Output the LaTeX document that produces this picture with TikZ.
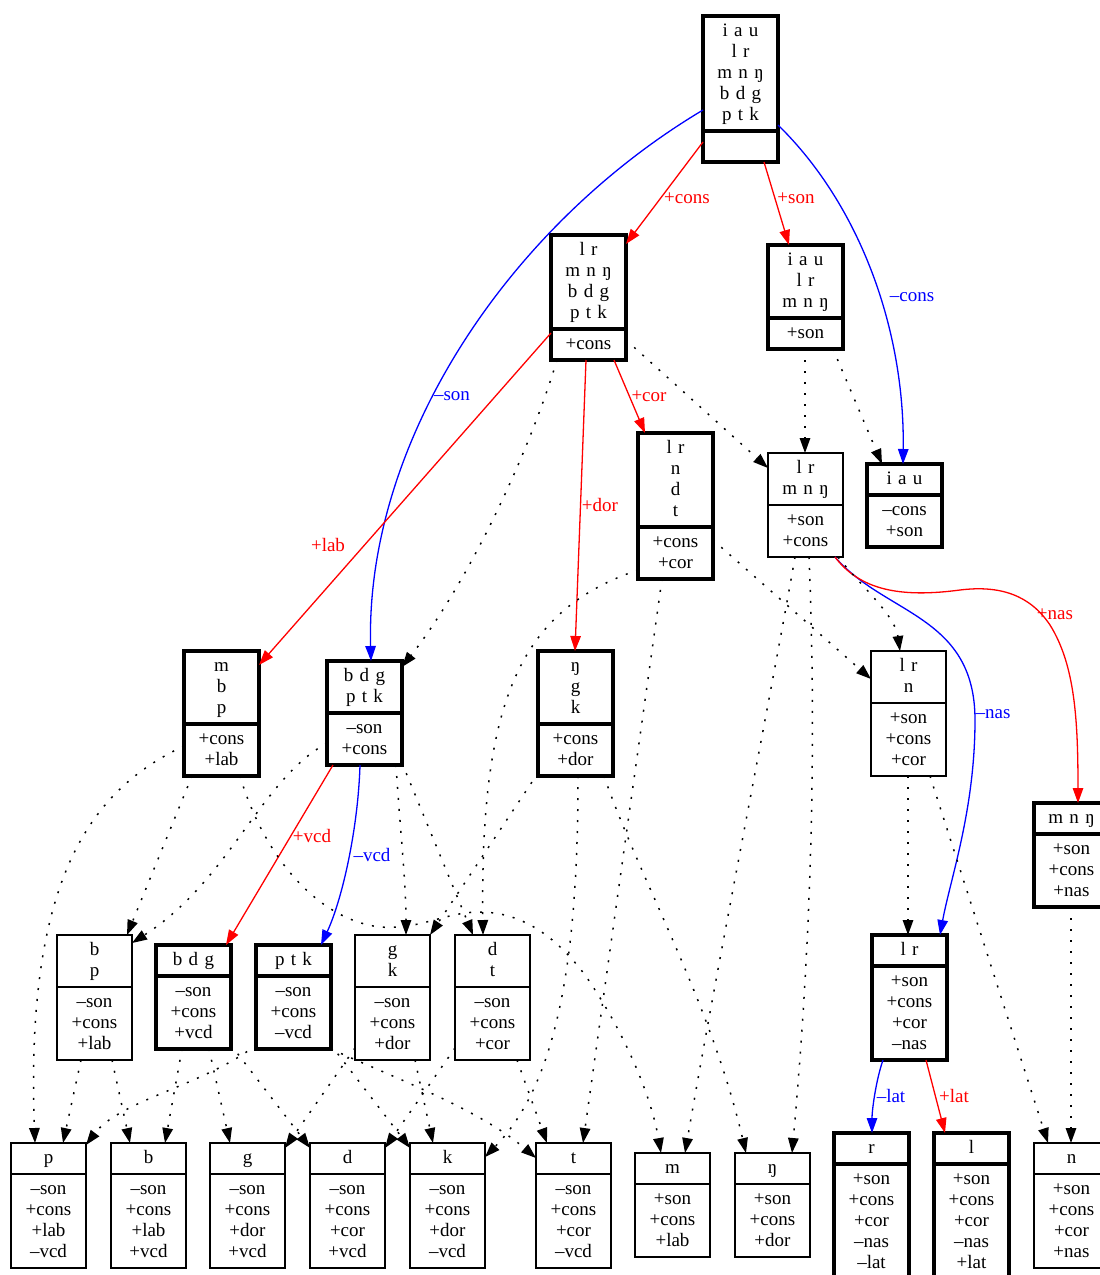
\documentclass[tikz,border=0pt]{standalone}
\usepackage{fontspec}
\setmainfont{Liberation Serif}
\usetikzlibrary{shapes.multipart,arrows.meta,calc}
\newcommand\recfont{\fontsize{19}{21}\selectfont}
\newcommand\st{\rule[-6pt]{0pt}{21pt}}
\tikzset{
  recthin/.style={rectangle split, rectangle split parts=2, draw, line width=1.5pt,
    text width=74pt, align=center, inner xsep=0.5pt, inner ysep=4.25pt, outer sep=0pt,
    anchor=north west, font=\recfont},
  recbold/.style={recthin, line width=3.1pt, inner ysep=3.45pt},
  conn/.style={line width=1.3pt, -{Triangle[length=15pt,width=10.5pt]}},
  dotc/.style={conn, black, line width=1.5pt, dash pattern=on 2pt off 9pt},
  redc/.style={conn, red},
  bluec/.style={conn, blue},
  lab/.style={font=\recfont, inner sep=0pt}
}
\begin{document}
\begin{tikzpicture}[x=1pt,y=-1pt]
\useasboundingbox (0,0) rectangle (1100,1275);
% ---------- nodes ----------
\node[recbold] (root) at (703,16) {\st i a u\\\st l r\\\st m n ŋ\\\st b d g\\\st p t k\nodepart{two}\st};
\node[recbold] (cons) at (551,235) {\st l r\\\st m n ŋ\\\st b d g\\\st p t k\nodepart{two}\st +cons};
\node[recbold] (son) at (768,245) {\st i a u\\\st l r\\\st m n ŋ\nodepart{two}\st +son};
\node[recbold] (lrnd) at (638,433) {\st l r\\\st n\\\st d\\\st t\nodepart{two}\st +cons\\\st +cor};
\node[recthin] (sonc) at (768,453) {\st l r\\\st m n ŋ\nodepart{two}\st +son\\\st +cons};
\node[recbold] (iau) at (867,464) {\st i a u\nodepart{two}\st –cons\\\st +son};
\node[recbold] (mbp) at (184,651) {\st m\\\st b\\\st p\nodepart{two}\st +cons\\\st +lab};
\node[recbold] (bdgptk) at (327,661) {\st b d g\\\st p t k\nodepart{two}\st –son\\\st +cons};
\node[recbold] (ngk) at (538,651) {\st ŋ\\\st g\\\st k\nodepart{two}\st +cons\\\st +dor};
\node[recthin] (lrn) at (871,651) {\st l r\\\st n\nodepart{two}\st +son\\\st +cons\\\st +cor};
\node[recbold] (mnng) at (1034,803) {\st m n ŋ\nodepart{two}\st +son\\\st +cons\\\st +nas};
\node[recthin] (bp) at (57,935) {\st b\\\st p\nodepart{two}\st –son\\\st +cons\\\st +lab};
\node[recbold] (bdg) at (156,945) {\st b d g\nodepart{two}\st –son\\\st +cons\\\st +vcd};
\node[recbold] (ptk) at (256,945) {\st p t k\nodepart{two}\st –son\\\st +cons\\\st –vcd};
\node[recthin] (gk) at (355,935) {\st g\\\st k\nodepart{two}\st –son\\\st +cons\\\st +dor};
\node[recthin] (dt) at (455,935) {\st d\\\st t\nodepart{two}\st –son\\\st +cons\\\st +cor};
\node[recbold] (lr) at (872,935) {\st l r\nodepart{two}\st +son\\\st +cons\\\st +cor\\\st –nas};
\node[recthin] (p) at (11,1143) {\st p\nodepart{two}\st –son\\\st +cons\\\st +lab\\\st –vcd};
\node[recthin] (b) at (111,1143) {\st b\nodepart{two}\st –son\\\st +cons\\\st +lab\\\st +vcd};
\node[recthin] (g) at (210,1143) {\st g\nodepart{two}\st –son\\\st +cons\\\st +dor\\\st +vcd};
\node[recthin] (d) at (310,1143) {\st d\nodepart{two}\st –son\\\st +cons\\\st +cor\\\st +vcd};
\node[recthin] (k) at (410,1143) {\st k\nodepart{two}\st –son\\\st +cons\\\st +dor\\\st –vcd};
\node[recthin] (t) at (536,1143) {\st t\nodepart{two}\st –son\\\st +cons\\\st +cor\\\st –vcd};
\node[recthin] (m) at (635,1153) {\st m\nodepart{two}\st +son\\\st +cons\\\st +lab};
\node[recthin] (ng) at (735,1153) {\st ŋ\nodepart{two}\st +son\\\st +cons\\\st +dor};
\node[recbold] (r) at (834,1133) {\st r\nodepart{two}\st +son\\\st +cons\\\st +cor\\\st –nas\\\st –lat};
\node[recbold] (l) at (934,1133) {\st l\nodepart{two}\st +son\\\st +cons\\\st +cor\\\st –nas\\\st +lat};
\node[recthin] (n) at (1034,1143) {\st n\nodepart{two}\st +son\\\st +cons\\\st +cor\\\st +nas};
% ---------- coloured connectors ----------
\draw[redc] ($(root.north west)+(0,126)$) -- ($(cons.north west)+(75,9)$);
\draw[redc] ($(root.north west)+(61,146)$) -- ($(son.north west)+(21,0)$);
\draw[bluec] ($(root.north west)+(0,94)$) .. controls (510,225) and (365,440) .. ($(bdgptk.north west)+(44,0)$);
\draw[bluec] ($(root.north west)+(75,109)$) .. controls (860,205) and (905,330) .. ($(iau.north west)+(36,0)$);
\draw[redc] ($(cons.north west)+(0,98)$) -- ($(mbp.north west)+(75,14)$);
\draw[redc] ($(cons.north west)+(35,125)$) -- ($(ngk.north west)+(37,0)$);
\draw[redc] ($(cons.north west)+(63,125)$) -- ($(lrnd.north west)+(7,0)$);
\draw[bluec] ($(sonc.north west)+(67,104)$) .. controls (885,615) and (975,615) .. (975,720) .. controls (975,810) and (950,880) .. ($(lr.north west)+(68,0)$);
\draw[redc] ($(sonc.north west)+(67,104)$) .. controls (860,590) and (900,598) .. (960,590) .. controls (1000,585) and (1030,595) .. (1050,625) .. controls (1075,665) and (1078,720) .. ($(mnng.north west)+(44,0)$);
\draw[redc] ($(bdgptk.north west)+(6,104)$) -- ($(bdg.north west)+(70,0)$);
\draw[bluec] ($(bdgptk.north west)+(33,104)$) .. controls (358,830) and (342,900) .. ($(ptk.north west)+(65,0)$);
\draw[bluec] ($(lr.north west)+(11,125)$) .. controls (876,1080) and (872,1110) .. ($(r.north west)+(38,0)$);
\draw[redc] ($(lr.north west)+(54,125)$) -- ($(l.north west)+(11,0)$);
% ---------- labels ----------
\node[lab, text=red] (l1) at (687,198) {+cons};
\node[lab, text=red] (l2) at (796,198) {+son};
\node[lab, text=blue] (l3) at (452,396) {–son};
\node[lab, text=blue] (l4) at (912,297) {–cons};
\node[lab, text=red] (l5) at (328,545) {+lab};
\node[lab, text=red] (l6) at (600,505) {+dor};
\node[lab, text=red] (l7) at (649,396) {+cor};
\node[lab, text=red] (l8) at (1055,614) {+nas};
\node[lab, text=blue] (l9) at (993,714) {–nas};
\node[lab, text=red] (l10) at (312,836) {+vcd};
\node[lab, text=blue] (l11) at (372,855) {–vcd};
\node[lab, text=blue] (l12) at (891,1096) {–lat};
\node[lab, text=red] (l13) at (954,1096) {+lat};
% ---------- dotted connectors ----------
\draw[dotc] ($(son.north west)+(37,104)$) -- ($(sonc.north west)+(37,0)$);
\draw[dotc] ($(son.north west)+(65,104)$) -- ($(iau.north west)+(15,0)$);
\draw[dotc] ($(cons.north west)+(75,105)$) -- ($(sonc.north west)+(0,15)$);
\draw[dotc] ($(cons.north west)+(6,125)$) .. controls (530,450) and (470,580) .. ($(bdgptk.north west)+(75,6)$);
\draw[dotc] ($(lrnd.north west)+(75,107)$) -- ($(lrn.north west)+(0,28)$);
\draw[dotc] ($(sonc.north west)+(70,104)$) .. controls (860,585) and (895,615) .. ($(lrn.north west)+(29,0)$);
\draw[dotc] ($(lrnd.north west)+(0,137)$) .. controls (520,610) and (480,700) .. ($(dt.north west)+(28,0)$);
\draw[dotc] ($(lrnd.north west)+(24,146)$) -- ($(t.north west)+(47,0)$);
\draw[dotc] ($(sonc.north west)+(27,104)$) .. controls (770,700) and (720,950) .. ($(m.north west)+(50,0)$);
\draw[dotc] ($(sonc.north west)+(41,104)$) .. controls (815,700) and (815,900) .. ($(ng.north west)+(57,0)$);
\draw[dotc] ($(mbp.north west)+(8,125)$) -- ($(bp.north west)+(70,0)$);
\draw[dotc] ($(mbp.north west)+(0,95)$) .. controls (90,790) and (25,880) .. ($(p.north west)+(24,0)$);
\draw[dotc] ($(mbp.north west)+(56,125)$) .. controls (265,860) and (320,920) .. (380,927) .. controls (420,930) and (445,912) .. (480,912) .. controls (520,912) and (555,935) .. (585,975) .. controls (620,1025) and (650,1090) .. ($(m.north west)+(26,0)$);
\draw[dotc] ($(bdgptk.north west)+(69,104)$) .. controls (400,830) and (406,880) .. ($(gk.north west)+(51,0)$);
\draw[dotc] ($(bdgptk.north west)+(75,102)$) -- ($(dt.north west)+(18,0)$);
\draw[dotc] ($(bdgptk.north west)+(0,82)$) .. controls (260,780) and (230,880) .. ($(bp.north west)+(75,8)$);
\draw[dotc] ($(ngk.north west)+(0,122)$) -- ($(gk.north west)+(75,0)$);
\draw[dotc] ($(ngk.north west)+(40,125)$) .. controls (578,950) and (560,1080) .. ($(k.north west)+(75,14)$);
\draw[dotc] ($(ngk.north west)+(66,125)$) .. controls (640,880) and (710,1000) .. ($(ng.north west)+(11,0)$);
\draw[dotc] ($(lrn.north west)+(37,125)$) -- ($(lr.north west)+(36,0)$);
\draw[dotc] ($(lrn.north west)+(59,125)$) -- ($(n.north west)+(14,0)$);
\draw[dotc] ($(mnng.north west)+(37,104)$) -- ($(n.north west)+(37,0)$);
\draw[dotc] ($(bp.north west)+(24,125)$) -- ($(p.north west)+(52,0)$);
\draw[dotc] ($(bp.north west)+(55,125)$) -- ($(b.north west)+(19,0)$);
\draw[dotc] ($(bdg.north west)+(26,104)$) -- ($(b.north west)+(54,0)$);
\draw[dotc] ($(bdg.north west)+(53,104)$) -- ($(g.north west)+(20,0)$);
\draw[dotc] ($(bdg.north west)+(75,100)$) -- ($(d.north west)+(0,5)$);
\draw[dotc] ($(ptk.north west)+(0,100)$) .. controls (205,1085) and (120,1100) .. ($(p.north west)+(75,2)$);
\draw[dotc] ($(ptk.north west)+(75,100)$) -- ($(k.north west)+(0,5)$);
\draw[dotc] ($(ptk.north west)+(75,104)$) .. controls (400,1080) and (480,1110) .. ($(t.north west)+(0,15)$);
\draw[dotc] ($(gk.north west)+(0,113)$) -- ($(g.north west)+(75,5)$);
\draw[dotc] ($(gk.north west)+(60,125)$) -- ($(k.north west)+(23,0)$);
\draw[dotc] ($(dt.north west)+(0,113)$) -- ($(d.north west)+(75,5)$);
\draw[dotc] ($(dt.north west)+(62,125)$) -- ($(t.north west)+(11,0)$);
\end{tikzpicture}
\end{document}
